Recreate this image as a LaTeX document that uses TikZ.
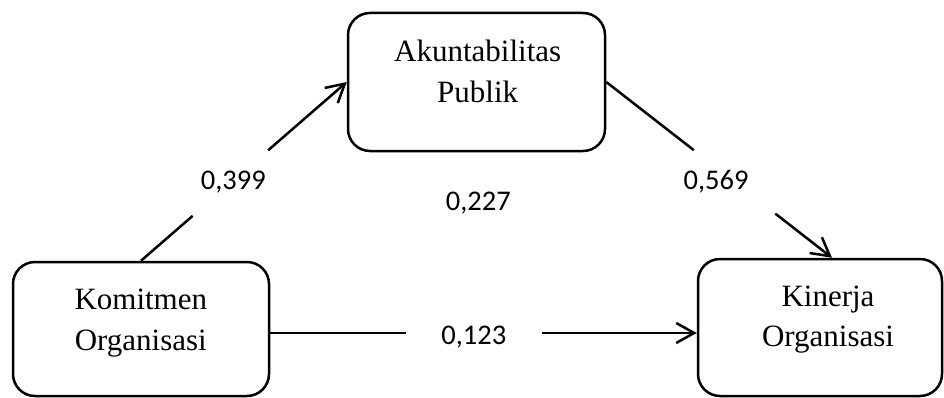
\documentclass[tikz,border=0pt]{standalone}
\usepackage{fontspec}
\setmainfont{Liberation Serif}
\newfontfamily\labelfont{Carlito}
\usetikzlibrary{arrows.meta,calc}
\begin{document}
\begin{tikzpicture}[x=1pt,y=1pt,
  box/.style={draw=black, line width=2.5pt, rounded corners=22pt, inner sep=0pt},
  boxtext/.style={align=center, inner sep=0pt, font=\fontsize{31}{40.5}\selectfont},
  coef/.style={inner sep=0pt, anchor=base, font=\labelfont\fontsize{28.5}{34}\selectfont},
  conn/.style={line width=2.5pt},
  arr/.style={conn, -{Straight Barb[length=18pt,width=20pt]}}]
\useasboundingbox (0,0) rectangle (944,397);
% boxes
\node[box, minimum width=257pt, minimum height=138pt] (aku) at (476.5,315) {};
\node[box, minimum width=256pt, minimum height=134pt] (kom) at (141,68) {};
\node[box, minimum width=244pt, minimum height=137pt] (kin) at (820,69.5) {};
% box texts
\node[boxtext] (akut) at (477.7,325.65) {Akuntabilitas\\Publik};
\node[boxtext] (komt) at (140.8,74) {Komitmen\\Organisasi};
\node[boxtext] (kint) at (828,77.2) {Kinerja\\Organisasi};
% connector end points and gaps
\coordinate (kinN) at ([xshift=12pt]kin.north);
\coordinate (komE) at ([yshift=-4pt]kom.east);
\coordinate (kinW) at (komE -| kin.west);
\coordinate (a1) at ($(kom.north)!0.251!(aku.west)$);
\coordinate (a2) at ($(kom.north)!0.618!(aku.west)$);
\coordinate (b1) at ($(aku.east)!0.388!(kinN)$);
\coordinate (b2) at ($(aku.east)!0.749!(kinN)$);
\coordinate (c1) at ($(komE)!0.319!(kinW)$);
\coordinate (c2) at ($(komE)!0.636!(kinW)$);
% connectors
\draw[conn] (kom.north) -- (a1);
\draw[arr] (a2) -- (aku.west);
\draw[conn] (aku.east) -- (b1);
\draw[arr] (b2) -- (kinN);
\draw[conn] (komE) -- (c1);
\draw[arr] (c2) -- (kinW);
% coefficients
\node[coef] (l399) at (233.3,207.7) {0,399};
\node[coef] (l569) at (716,207.7) {0,569};
\node[coef] (l227) at (478.3,187) {0,227};
\node[coef] (l123) at (473.8,52.7) {0,123};
\end{tikzpicture}
\end{document}
